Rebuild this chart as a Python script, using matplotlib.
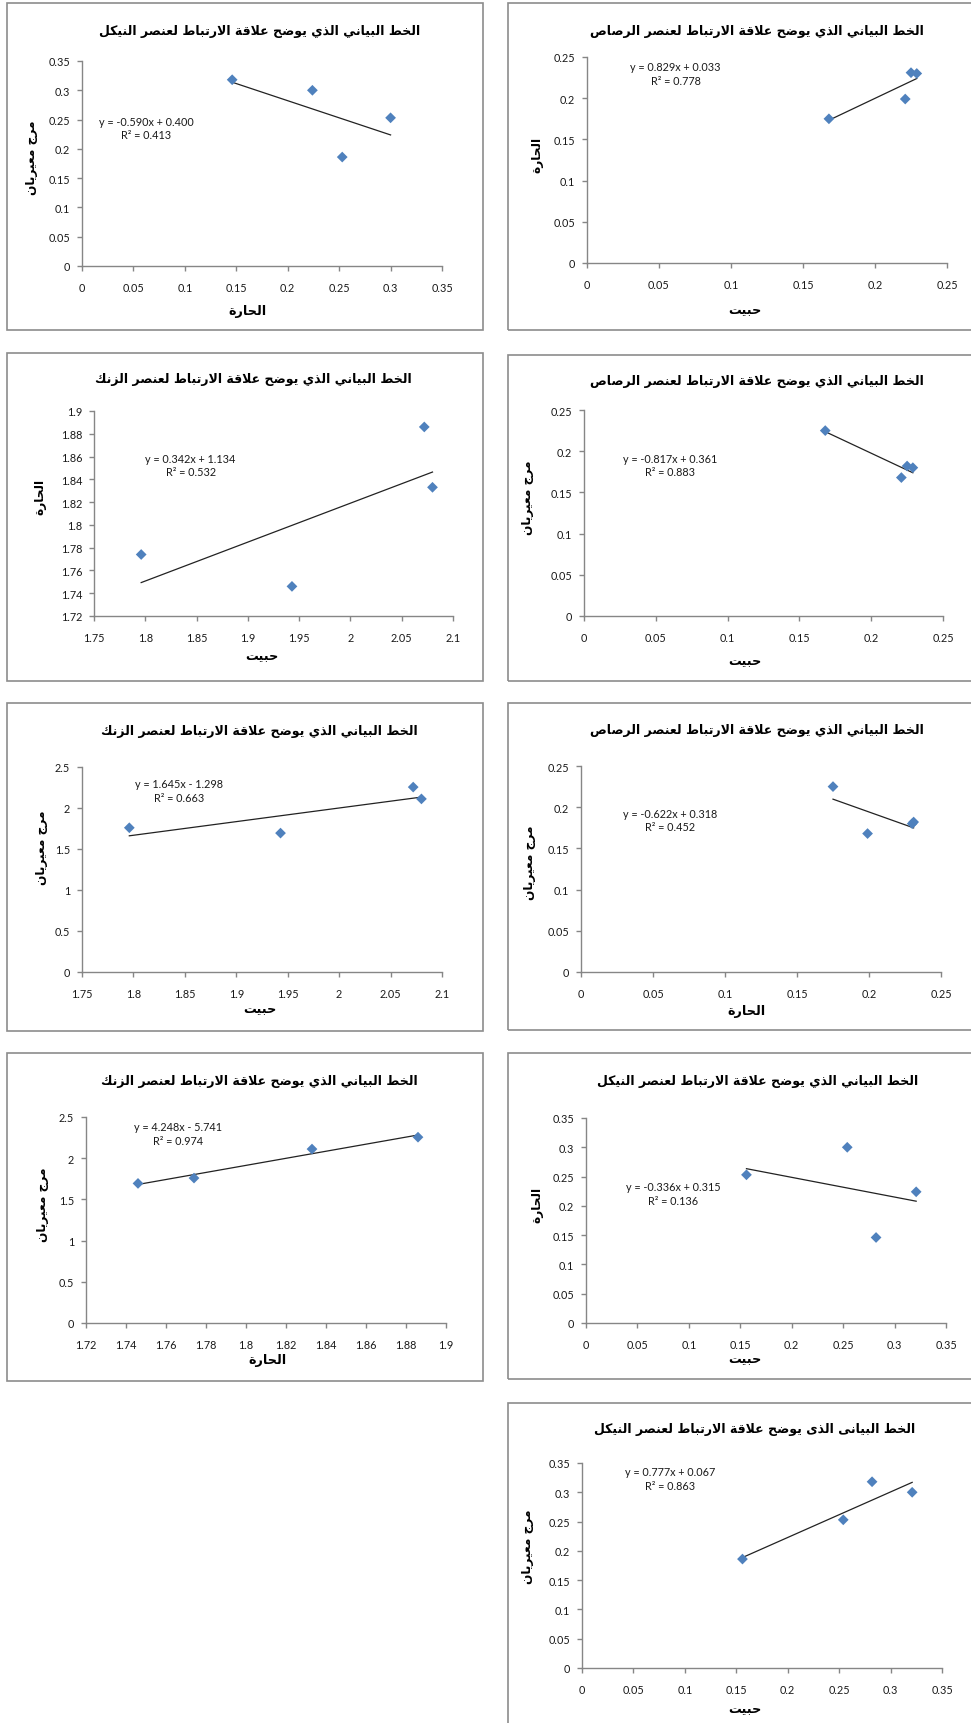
import numpy as np
import matplotlib
matplotlib.use("Agg")
import matplotlib.pyplot as plt
from matplotlib.patches import Rectangle

# ---------------- data ----------------
# Nickel (النيكل)
ni_habeet = [0.156, 0.254, 0.282, 0.321]
ni_hara = [0.253, 0.300, 0.146, 0.224]
ni_marj = [0.186, 0.253, 0.318, 0.300]
# Lead (الرصاص)
pb_habeet = [0.168, 0.221, 0.225, 0.229]
pb_hara = [0.175, 0.199, 0.231, 0.230]
pb_marj = [0.225, 0.168, 0.182, 0.180]
# Zinc (الزنك)
zn_habeet = [1.796, 1.943, 2.072, 2.080]
zn_hara = [1.774, 1.746, 1.886, 1.833]
zn_marj = [1.759, 1.694, 2.255, 2.111]

title_ni = "الخط البياني الذي يوضح علاقة الارتباط لعنصر النيكل"
title_ni2 = "الخط البيانى الذى يوضح علاقة الارتباط لعنصر النيكل"
title_pb = "الخط البياني الذي يوضح علاقة الارتباط لعنصر الرصاص"
title_zn = "الخط البياني الذي يوضح علاقة الارتباط لعنصر الزنك"
lab_hara = "الحارة"
lab_habeet = "حبيت"
lab_marj = "مرج معيريان"

eq_texts = [
    "y = -0.590x + 0.400\nR² = 0.413",
    "y = 0.829x + 0.033\nR² = 0.778",
    "y = 0.342x + 1.134\nR² = 0.532",
    "y = -0.817x + 0.361\nR² = 0.883",
    "y = 1.645x - 1.298\nR² = 0.663",
    "y = -0.622x + 0.318\nR² = 0.452",
    "y = 4.248x - 5.741\nR² = 0.974",
    "y = -0.336x + 0.315\nR² = 0.136",
    "y = 0.777x + 0.067\nR² = 0.863",
]

# ---------------- Arabic shaping (presentation forms + RTL order) ----------------
FORMS = {
    'ا': ('\uFE8D', '\uFE8E', None, None),
    'ب': ('\uFE8F', '\uFE90', '\uFE91', '\uFE92'),
    'ة': ('\uFE93', '\uFE94', None, None),
    'ت': ('\uFE95', '\uFE96', '\uFE97', '\uFE98'),
    'ج': ('\uFE9D', '\uFE9E', '\uFE9F', '\uFEA0'),
    'ح': ('\uFEA1', '\uFEA2', '\uFEA3', '\uFEA4'),
    'خ': ('\uFEA5', '\uFEA6', '\uFEA7', '\uFEA8'),
    'ذ': ('\uFEAB', '\uFEAC', None, None),
    'ر': ('\uFEAD', '\uFEAE', None, None),
    'ز': ('\uFEAF', '\uFEB0', None, None),
    'ص': ('\uFEB9', '\uFEBA', '\uFEBB', '\uFEBC'),
    'ض': ('\uFEBD', '\uFEBE', '\uFEBF', '\uFEC0'),
    'ط': ('\uFEC1', '\uFEC2', '\uFEC3', '\uFEC4'),
    'ع': ('\uFEC9', '\uFECA', '\uFECB', '\uFECC'),
    'ق': ('\uFED5', '\uFED6', '\uFED7', '\uFED8'),
    'ك': ('\uFED9', '\uFEDA', '\uFEDB', '\uFEDC'),
    'ل': ('\uFEDD', '\uFEDE', '\uFEDF', '\uFEE0'),
    'م': ('\uFEE1', '\uFEE2', '\uFEE3', '\uFEE4'),
    'ن': ('\uFEE5', '\uFEE6', '\uFEE7', '\uFEE8'),
    'و': ('\uFEED', '\uFEEE', None, None),
    'ى': ('\uFEEF', '\uFEF0', None, None),
    'ي': ('\uFEF1', '\uFEF2', '\uFEF3', '\uFEF4'),
    'LA': ('\uFEFB', '\uFEFC', None, None),
}


def shape(text):
    tokens = []
    i = 0
    while i < len(text):
        if text[i] == 'ل' and i + 1 < len(text) and text[i + 1] == 'ا':
            tokens.append('LA')
            i += 2
        else:
            tokens.append(text[i])
            i += 1
    res = []
    for k, t in enumerate(tokens):
        f = FORMS.get(t)
        if f is None:
            res.append(t)
            continue
        prev = tokens[k - 1] if k > 0 else None
        nxt = tokens[k + 1] if k + 1 < len(tokens) else None
        jp = prev is not None and prev in FORMS and FORMS[prev][2] is not None
        jn = nxt is not None and nxt in FORMS and f[2] is not None
        if jp and jn:
            g = f[3]
        elif jp:
            g = f[1]
        elif jn:
            g = f[2]
        else:
            g = f[0]
        res.append(g)
    return ''.join(res)[::-1]


# ---------------- layout ----------------
W, H = 971, 1724
fig = plt.figure(figsize=(W / 100, H / 100), dpi=100)
fig.patch.set_facecolor('white')

AR_FONT = ['DejaVu Sans']
NUM_FONT = ['Lato', 'DejaVu Sans']
BLUE = '#4F81BD'
GRAY = '#868686'

panels = [
    dict(x=ni_hara, y=ni_marj, xl=lab_hara, yl=lab_marj, t=title_ni,
         xlim=(0, 0.35), ylim=(0, 0.35), xs=0.05, ys=0.05,
         box=(7, 4, 483, 331), ax=(82, 62, 442, 267), tp=(260, 32), xp=(247, 311), yp=(31, 158), eq=(0.179, 0.673)),
    dict(x=pb_habeet, y=pb_hara, xl=lab_habeet, yl=lab_hara, t=title_pb,
         xlim=(0, 0.25), ylim=(0, 0.25), xs=0.05, ys=0.05,
         box=(508, 4, 980, 331), ax=(587, 58, 947, 264), tp=(757, 31), xp=(745, 310), yp=(537, 155), eq=(0.246, 0.92)),
    dict(x=zn_habeet, y=zn_hara, xl=lab_habeet, yl=lab_hara, t=title_zn,
         xlim=(1.75, 2.1), ylim=(1.72, 1.9), xs=0.05, ys=0.02,
         box=(7, 354, 483, 682), ax=(94, 412, 453, 617), tp=(253, 380), xp=(262, 656), yp=(40, 497), eq=(0.269, 0.737)),
    dict(x=pb_habeet, y=pb_marj, xl=lab_habeet, yl=lab_marj, t=title_pb,
         xlim=(0, 0.25), ylim=(0, 0.25), xs=0.05, ys=0.05,
         box=(508, 356, 980, 682), ax=(584, 411, 943, 617), tp=(757, 382), xp=(745, 661), yp=(527, 498), eq=(0.24, 0.733)),
    dict(x=zn_habeet, y=zn_marj, xl=lab_habeet, yl=lab_marj, t=title_zn,
         xlim=(1.75, 2.1), ylim=(0, 2.5), xs=0.05, ys=0.5,
         box=(7, 704, 483, 1032), ax=(82, 768, 442, 973), tp=(259, 732), xp=(260, 1009), yp=(41, 848), eq=(0.27, 0.886)),
    dict(x=pb_hara, y=pb_marj, xl=lab_hara, yl=lab_marj, t=title_pb,
         xlim=(0, 0.25), ylim=(0, 0.25), xs=0.05, ys=0.05,
         box=(508, 704, 980, 1031), ax=(581, 767, 941, 973), tp=(757, 731), xp=(746, 1012), yp=(530, 863), eq=(0.247, 0.738)),
    dict(x=zn_hara, y=zn_marj, xl=lab_hara, yl=lab_marj, t=title_zn,
         xlim=(1.72, 1.9), ylim=(0, 2.5), xs=0.02, ys=0.5,
         box=(7, 1054, 483, 1382), ax=(86, 1118, 446, 1324), tp=(259, 1082), xp=(267, 1361), yp=(42, 1205), eq=(0.255, 0.921)),
    dict(x=ni_habeet, y=ni_hara, xl=lab_habeet, yl=lab_hara, t=title_ni,
         xlim=(0, 0.35), ylim=(0, 0.35), xs=0.05, ys=0.05,
         box=(508, 1054, 980, 1380), ax=(586, 1119, 946, 1324), tp=(758, 1081), xp=(745, 1359), yp=(537, 1205), eq=(0.242, 0.633)),
    dict(x=ni_habeet, y=ni_marj, xl=lab_habeet, yl=lab_marj, t=title_ni2,
         xlim=(0, 0.35), ylim=(0, 0.35), xs=0.05, ys=0.05,
         box=(508, 1404, 980, 1740), ax=(582, 1464, 942, 1669), tp=(755, 1430), xp=(745, 1709), yp=(527, 1547), eq=(0.245, 0.923)),
]


def fx(px):
    return px / W


def fy(py):
    return 1 - py / H


def fmt(v):
    return f"{round(v, 4):g}"


for i, p in enumerate(panels):
    bl, bt, br, bb = p['box']
    fig.add_artist(Rectangle((fx(bl), fy(bb)), fx(br - bl), (bb - bt) / H,
                             transform=fig.transFigure, fill=False,
                             edgecolor='#8C8C8C', lw=1.2))
    al, at, ar, ab = p['ax']
    ax = fig.add_axes([fx(al), fy(ab), fx(ar - al), (ab - at) / H])
    ax.set_facecolor('none')
    x = np.array(p['x'])
    y = np.array(p['y'])
    ax.scatter(x, y, marker='D', s=30, color=BLUE, edgecolors='none', zorder=3, clip_on=False)
    m, c = np.polyfit(x, y, 1)
    xx = np.array([x.min(), x.max()])
    ax.plot(xx, m * xx + c, color='#222222', lw=0.9, zorder=2)
    ax.set_xlim(*p['xlim'])
    ax.set_ylim(*p['ylim'])
    xt = np.arange(p['xlim'][0], p['xlim'][1] + p['xs'] / 2, p['xs'])
    yt = np.arange(p['ylim'][0], p['ylim'][1] + p['ys'] / 2, p['ys'])
    ax.set_xticks(xt)
    ax.set_yticks(yt)
    ax.set_xticklabels([fmt(v) for v in xt], family=NUM_FONT, fontsize=7.8)
    ax.set_yticklabels([fmt(v) for v in yt], family=NUM_FONT, fontsize=7.8)
    for s in ['top', 'right']:
        ax.spines[s].set_visible(False)
    for s in ['left', 'bottom']:
        ax.spines[s].set_color(GRAY)
        ax.spines[s].set_linewidth(1.0)
    ax.tick_params(axis='both', direction='out', length=3.5, width=1.0, color=GRAY, labelcolor='#1a1a1a')
    ax.tick_params(axis='x', pad=8)
    ax.tick_params(axis='y', pad=5)
    ax.text(p['eq'][0], p['eq'][1], eq_texts[i], transform=ax.transAxes,
            ha='center', va='center', multialignment='center',
            family=NUM_FONT, fontsize=7.8, color='#1a1a1a', linespacing=1.3)
    # title and axis labels
    fig.text(fx(p['tp'][0]), fy(p['tp'][1]), shape(p['t']), ha='center', va='center',
             family=AR_FONT, fontweight='bold', fontsize=9, color='black')
    fig.text(fx(p['xp'][0]), fy(p['xp'][1]), shape(p['xl']), ha='center', va='center',
             family=AR_FONT, fontweight='bold', fontsize=9.2, color='black')
    fig.text(fx(p['yp'][0]), fy(p['yp'][1]), shape(p['yl']), ha='center', va='center',
             rotation=90, family=AR_FONT, fontweight='bold', fontsize=8.7, color='black')

fig.savefig('out.png', dpi=100, facecolor='white')
